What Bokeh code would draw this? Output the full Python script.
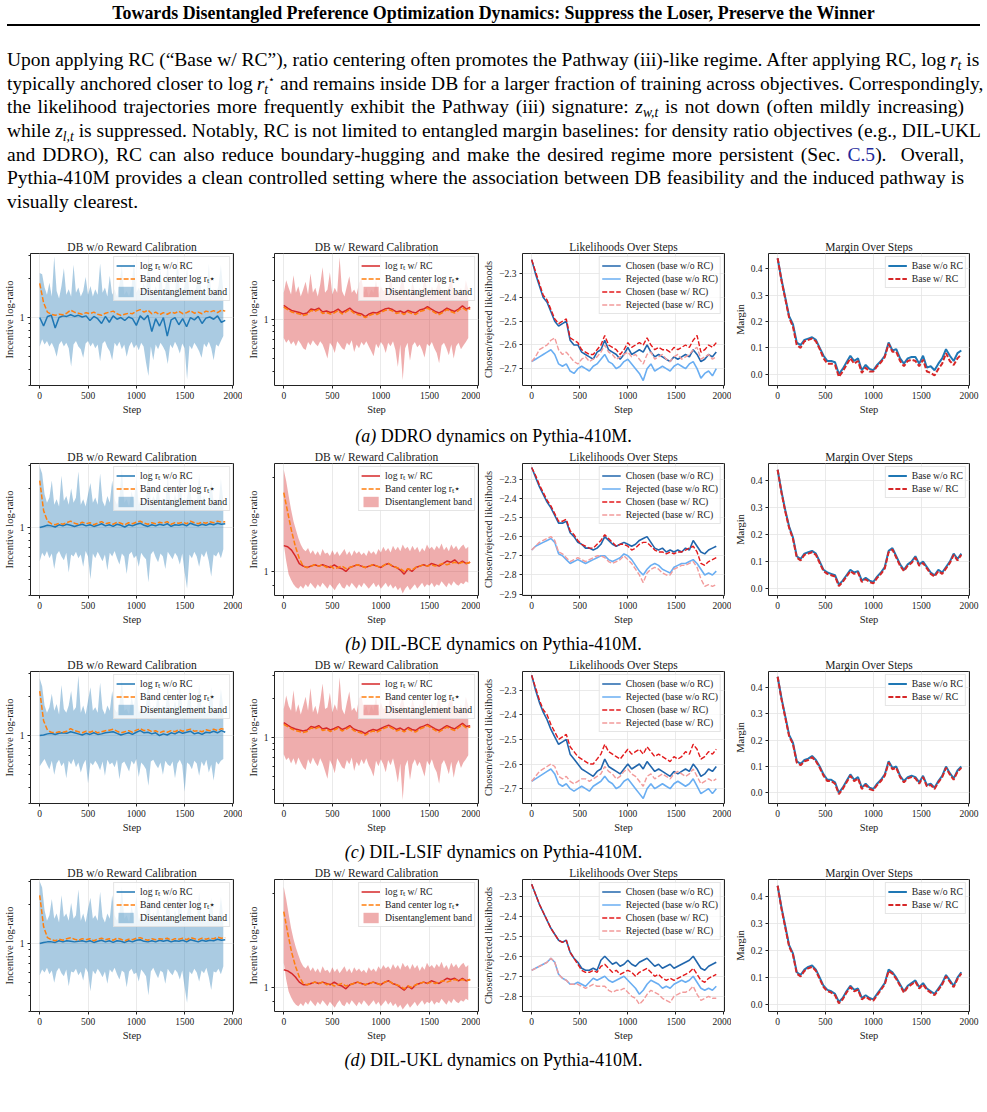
import numpy as np
from bokeh.core.properties import value
from bokeh.embed import file_html
from bokeh.layouts import column, row
from bokeh.models import (CustomJSTickFormatter, Div, FixedTicker, Legend,
                          LegendItem, Range1d)
from bokeh.plotting import figure
from bokeh.resources import INLINE

SERIF = "Liberation Serif"
BAND_EVERY = 25      # training steps between band samples
LINE_EVERY = 40      # training steps between curve samples
X_TICKS = [0, 500, 1000, 1500, 2000]
LOG_MINOR = [0.2, 0.3, 0.4, 0.5, 0.6, 0.7, 0.8, 0.9, 2, 3, 4, 5, 6, 7, 8, 9]
MARGIN_TICKS = [0.0, 0.1, 0.2, 0.3, 0.4]

# ---------------- DDRO ----------------
DDRO_WO_HI = [2.2, 2.15, 1.7, 1.5, 1.85, 1.45, 2.95, 1.6, 1.4, 1.75, 2.4, 1.5, 1.65, 1.45, 2.55, 1.55, 1.7, 1.45, 1.6, 2.05,
              1.5, 1.75, 1.45, 1.65, 1.5, 2.6, 1.55, 1.7, 1.45, 2.1, 1.5, 1.65, 1.45, 1.8, 2.5, 1.5, 1.6, 1.45, 1.7, 2.75,
              1.55, 1.7, 1.5, 1.85, 1.55, 3.05, 1.6, 1.45, 1.75, 1.5, 2.35, 1.55, 1.7, 2.65, 1.5, 1.65, 1.45, 2.95, 1.6, 1.5,
              1.75, 2.4, 1.55, 1.65, 1.45, 1.8, 2.15, 1.5, 1.7, 1.45, 2.6, 1.55, 1.65, 1.5, 1.75, 2.55, 1.6]
DDRO_WO_LO = [0.6, 0.68, 0.62, 0.66, 0.6, 0.64, 0.58, 0.5, 0.62, 0.66, 0.6, 0.64, 0.58, 0.42, 0.62, 0.66, 0.6, 0.57, 0.49, 0.63,
              0.66, 0.6, 0.64, 0.58, 0.62, 0.46, 0.63, 0.66, 0.59, 0.55, 0.47, 0.64, 0.6, 0.65, 0.57, 0.62, 0.5, 0.6, 0.65, 0.58,
              0.62, 0.56, 0.64, 0.6, 0.45, 0.355, 0.6, 0.47, 0.62, 0.57, 0.64, 0.6, 0.55, 0.44, 0.62, 0.58, 0.65, 0.6, 0.53, 0.63,
              0.58, 0.335, 0.61, 0.57, 0.64, 0.6, 0.55, 0.49, 0.63, 0.59, 0.65, 0.58, 0.47, 0.62, 0.6, 0.66, 0.72]
DDRO_WO_CENTER = [1.83, 1.3, 1.1, 1.06, 1.04, 1.06, 1.05, 1.08, 1.14, 1.1, 1.08, 1.06, 1.09, 1.07, 1.1, 1.06, 1.04, 1.08, 1.1,
                  1.12, 1.07, 1.04, 1.06, 1.08, 1.07, 1.12, 1.15, 1.1, 1.14, 1.07, 1.1, 1.05, 1.09, 1.06, 1.1, 1.08, 1.12,
                  1.07, 1.09, 1.13, 1.08, 1.1, 1.07, 1.12, 1.1, 1.13, 1.09, 1.14, 1.12]
DDRO_WO_LOGR = [1.0, 0.86, 1.02, 1.04, 0.83, 1.0, 1.03, 1.02, 1.05, 1.02, 1.04, 1.01, 1.03, 0.95, 1.02, 0.98, 0.9, 1.02, 0.92,
                1.03, 0.97, 1.0, 0.95, 1.01, 0.98, 0.87, 1.03, 0.96, 1.04, 0.78, 0.98, 0.86, 1.0, 0.72, 0.96, 1.0, 0.88,
                0.98, 0.85, 1.0, 0.96, 1.02, 0.9, 0.99, 1.01, 0.97, 1.03, 0.92, 0.95]
DDRO_W_HI = [1.6, 2.0, 1.75, 1.55, 2.18, 1.6, 1.8, 1.5, 1.7, 1.95, 1.55, 2.25, 1.6, 1.75, 1.5, 1.85, 2.52, 1.6, 1.7, 2.3,
             1.55, 1.75, 1.6, 3.0, 1.65, 1.5, 1.8, 2.15, 1.6, 1.7, 1.55, 1.9, 2.05, 1.6, 1.75, 1.5, 1.7, 1.6, 2.0, 1.55,
             1.8, 1.65, 1.7, 1.5, 2.25, 1.6, 1.75, 1.55, 1.8, 2.15, 1.6, 1.7, 1.5, 1.95, 1.65, 1.55, 1.75, 1.6, 2.15, 1.7,
             1.5, 1.8, 1.6, 1.75, 2.0, 1.55, 1.7, 1.6, 1.8, 2.2, 1.55, 1.7, 1.6, 1.75, 1.5, 2.0, 1.7]
DDRO_W_LO = [0.72, 0.66, 0.7, 0.64, 0.68, 0.62, 0.69, 0.65, 0.6, 0.58, 0.67, 0.63, 0.69, 0.65, 0.62, 0.68, 0.64, 0.57, 0.5, 0.66,
             0.62, 0.55, 0.68, 0.64, 0.6, 0.58, 0.66, 0.63, 0.69, 0.56, 0.64, 0.6, 0.67, 0.63, 0.68, 0.62, 0.57, 0.52, 0.65, 0.6,
             0.67, 0.63, 0.55, 0.66, 0.62, 0.68, 0.58, 0.43, 0.64, 0.34, 0.6, 0.66, 0.48, 0.63, 0.67, 0.61, 0.64, 0.58, 0.51, 0.65,
             0.62, 0.67, 0.6, 0.55, 0.46, 0.63, 0.66, 0.6, 0.53, 0.64, 0.5, 0.62, 0.66, 0.59, 0.63, 0.67, 0.72]
DDRO_W_CENTER = [1.24, 1.19, 1.14, 1.12, 1.1, 1.07, 1.09, 1.17, 1.15, 1.19, 1.11, 1.13, 1.1, 1.12, 1.17, 1.1, 1.14, 1.19, 1.12,
                 1.09, 1.07, 1.03, 1.07, 1.1, 1.09, 1.13, 1.17, 1.19, 1.16, 1.11, 1.13, 1.09, 1.14, 1.11, 1.09, 1.15, 1.17,
                 1.22, 1.17, 1.12, 1.09, 1.13, 1.19, 1.15, 1.12, 1.17, 1.23, 1.17, 1.21]
DDRO_W_LOGR = [1.28, 1.22, 1.17, 1.15, 1.13, 1.1, 1.12, 1.2, 1.18, 1.22, 1.14, 1.16, 1.13, 1.15, 1.2, 1.13, 1.17, 1.22, 1.15,
               1.12, 1.1, 1.05, 1.1, 1.13, 1.12, 1.16, 1.2, 1.22, 1.19, 1.14, 1.16, 1.12, 1.17, 1.14, 1.12, 1.18, 1.2, 1.25,
               1.2, 1.15, 1.12, 1.16, 1.22, 1.18, 1.15, 1.2, 1.27, 1.2, 1.24]
DDRO_CHOSEN_WO = [-2.24, -2.30, -2.35, -2.40, -2.42, -2.46, -2.50, -2.52, -2.51, -2.50, -2.58, -2.60, -2.60, -2.63, -2.64,
                  -2.65, -2.66, -2.63, -2.62, -2.58, -2.62, -2.63, -2.64, -2.66, -2.64, -2.61, -2.64, -2.63, -2.62, -2.63,
                  -2.60, -2.63, -2.65, -2.64, -2.65, -2.66, -2.67, -2.65, -2.66, -2.65, -2.64, -2.65, -2.62, -2.64, -2.67,
                  -2.66, -2.64, -2.65, -2.63]
DDRO_REJ_WO = [-2.67, -2.66, -2.65, -2.64, -2.63, -2.62, -2.64, -2.68, -2.69, -2.68, -2.71, -2.72, -2.70, -2.69, -2.70, -2.71,
               -2.69, -2.68, -2.66, -2.64, -2.67, -2.68, -2.70, -2.69, -2.67, -2.66, -2.68, -2.70, -2.72, -2.75, -2.70, -2.68,
               -2.71, -2.70, -2.69, -2.70, -2.71, -2.69, -2.68, -2.69, -2.70, -2.68, -2.67, -2.70, -2.74, -2.72, -2.71,
               -2.73, -2.70]
DDRO_CHOSEN_W = [-2.24, -2.29, -2.34, -2.39, -2.41, -2.45, -2.49, -2.51, -2.50, -2.49, -2.57, -2.58, -2.59, -2.62, -2.63,
                 -2.64, -2.64, -2.62, -2.60, -2.56, -2.60, -2.61, -2.62, -2.64, -2.62, -2.59, -2.61, -2.60, -2.59, -2.60,
                 -2.57, -2.60, -2.62, -2.61, -2.62, -2.62, -2.63, -2.61, -2.62, -2.61, -2.60, -2.61, -2.58, -2.56, -2.63,
                 -2.62, -2.60, -2.61, -2.59]
DDRO_REJ_W = [-2.67, -2.65, -2.62, -2.61, -2.60, -2.58, -2.57, -2.62, -2.64, -2.63, -2.65, -2.67, -2.68, -2.66, -2.65, -2.67,
              -2.66, -2.65, -2.63, -2.60, -2.63, -2.64, -2.66, -2.65, -2.64, -2.63, -2.65, -2.64, -2.66, -2.68, -2.64, -2.63,
              -2.66, -2.65, -2.64, -2.66, -2.67, -2.65, -2.64, -2.66, -2.65, -2.64, -2.62, -2.61, -2.66, -2.65, -2.64,
              -2.66, -2.65]
DDRO_MARGIN_WO = [0.44, 0.36, 0.29, 0.22, 0.19, 0.12, 0.11, 0.13, 0.135, 0.14, 0.13, 0.10, 0.07, 0.05, 0.05, 0.045, 0.0, 0.02,
                  0.045, 0.07, 0.05, 0.06, 0.015, 0.035, 0.02, 0.015, 0.035, 0.05, 0.07, 0.12, 0.09, 0.095, 0.06, 0.04, 0.06,
                  0.065, 0.065, 0.04, 0.07, 0.025, 0.03, 0.015, 0.04, 0.06, 0.095, 0.07, 0.05, 0.08, 0.09]
DDRO_MARGIN_W = [0.44, 0.355, 0.285, 0.215, 0.18, 0.11, 0.10, 0.125, 0.13, 0.135, 0.125, 0.095, 0.06, 0.04, 0.04, 0.035, -0.01,
                 0.01, 0.035, 0.06, 0.04, 0.05, 0.005, 0.025, 0.01, 0.01, 0.03, 0.045, 0.065, 0.115, 0.085, 0.085, 0.05, 0.03,
                 0.05, 0.055, 0.05, 0.03, 0.055, 0.01, 0.005, -0.005, 0.02, 0.04, 0.08, 0.05, 0.035, 0.06, 0.075]

# ---------------- DIL-BCE ----------------
BCE_WO_HI = [2.95, 2.6, 1.8, 1.55, 1.7, 2.3, 1.5, 1.65, 1.45, 2.5, 1.6, 1.75, 1.5, 2.0, 1.55, 1.7, 2.7, 1.5, 1.65, 1.45,
             1.8, 2.2, 1.55, 1.7, 1.5, 2.6, 1.6, 1.45, 1.75, 1.55, 2.3, 1.65, 1.5, 1.7, 2.85, 1.55, 1.65, 1.45, 1.9, 1.6,
             2.4, 1.5, 1.7, 1.55, 1.65, 2.9, 1.5, 1.75, 1.6, 2.1, 1.45, 1.7, 1.55, 2.5, 1.65, 1.5, 1.8, 1.55, 2.75, 1.6,
             1.45, 1.7, 2.2, 1.55, 1.65, 1.5, 2.6, 1.6, 1.75, 1.45, 1.7, 2.3, 1.55, 1.65, 1.5, 2.4, 1.6]
BCE_WO_LO = [0.55, 0.64, 0.6, 0.66, 0.58, 0.63, 0.48, 0.62, 0.66, 0.6, 0.56, 0.64, 0.45, 0.62, 0.6, 0.65, 0.58, 0.62, 0.5, 0.66,
             0.6, 0.4, 0.63, 0.58, 0.65, 0.6, 0.55, 0.62, 0.47, 0.64, 0.6, 0.66, 0.58, 0.52, 0.63, 0.6, 0.44, 0.62, 0.65, 0.58,
             0.61, 0.5, 0.64, 0.6, 0.57, 0.38, 0.62, 0.66, 0.59, 0.54, 0.63, 0.6, 0.48, 0.65, 0.61, 0.57, 0.64, 0.6, 0.52, 0.63,
             0.45, 0.34, 0.62, 0.58, 0.65, 0.6, 0.5, 0.63, 0.59, 0.66, 0.55, 0.42, 0.62, 0.6, 0.65, 0.58, 0.68]
BCE_WO_CENTER = [2.3, 1.35, 1.12, 1.07, 1.05, 1.08, 1.06, 1.09, 1.12, 1.08, 1.06, 1.1, 1.07, 1.09, 1.05, 1.08, 1.11, 1.07, 1.09,
                 1.06, 1.1, 1.08, 1.05, 1.09, 1.07, 1.1, 1.12, 1.08, 1.06, 1.09, 1.07, 1.1, 1.08, 1.11, 1.06, 1.09, 1.08,
                 1.1, 1.07, 1.12, 1.09, 1.07, 1.1, 1.08, 1.11, 1.09, 1.12, 1.1, 1.11]
BCE_WO_LOGR = [1.0, 1.02, 1.04, 1.03, 1.01, 1.05, 1.03, 1.06, 1.04, 1.02, 1.04, 1.06, 1.03, 1.05, 1.02, 1.04, 1.07, 1.03, 1.05,
               1.02, 1.06, 1.04, 1.01, 1.05, 1.03, 1.06, 1.08, 1.04, 1.02, 1.05, 1.03, 1.06, 1.04, 1.07, 1.02, 1.05, 1.04,
               1.06, 1.03, 1.08, 1.05, 1.03, 1.06, 1.04, 1.07, 1.05, 1.08, 1.06, 1.07]
BCE_W_HI = [2.12, 1.95, 1.75, 1.58, 1.45, 1.36, 1.28, 1.22, 1.18, 1.16, 1.19, 1.14, 1.17, 1.13, 1.16, 1.12, 1.18, 1.14, 1.15,
            1.12, 1.17, 1.13, 1.16, 1.12, 1.15, 1.18, 1.13, 1.16, 1.12, 1.17, 1.14, 1.16, 1.13, 1.15, 1.12, 1.17, 1.14, 1.16,
            1.13, 1.18, 1.15, 1.2, 1.16, 1.19, 1.15, 1.21, 1.17, 1.2, 1.16, 1.22, 1.18, 1.2, 1.16, 1.21, 1.17, 1.2, 1.15, 1.19,
            1.16, 1.22, 1.18, 1.2, 1.17, 1.21, 1.18, 1.23, 1.17, 1.2, 1.16, 1.22, 1.18, 1.21, 1.17, 1.2, 1.22, 1.18, 1.2]
BCE_W_LO = [1.22, 1.08, 0.98, 0.94, 0.91, 0.89, 0.88, 0.9, 0.88, 0.91, 0.89, 0.92, 0.9, 0.88, 0.91, 0.89, 0.92, 0.9, 0.88, 0.91,
            0.89, 0.87, 0.9, 0.92, 0.89, 0.88, 0.91, 0.89, 0.92, 0.9, 0.88, 0.91, 0.89, 0.92, 0.9, 0.88, 0.9, 0.92, 0.89, 0.91,
            0.88, 0.9, 0.92, 0.89, 0.91, 0.88, 0.9, 0.87, 0.89, 0.85, 0.88, 0.9, 0.87, 0.89, 0.91, 0.88, 0.9, 0.92, 0.89, 0.91,
            0.9, 0.92, 0.89, 0.91, 0.9, 0.93, 0.91, 0.89, 0.92, 0.9, 0.93, 0.91, 0.9, 0.92, 0.91, 0.93, 0.92]
BCE_W_CENTER = [1.79, 1.55, 1.35, 1.2, 1.1, 1.04, 1.03, 1.04, 1.05, 1.04, 1.05, 1.03, 1.04, 1.02, 1.03, 1.04, 1.02, 1.03, 1.04,
                1.05, 1.04, 1.03, 1.04, 1.05, 1.04, 1.03, 1.05, 1.06, 1.04, 1.03, 1.02, 1.0, 1.02, 1.01, 1.03, 1.04, 1.05,
                1.04, 1.05, 1.04, 1.05, 1.06, 1.05, 1.06, 1.07, 1.06, 1.07, 1.06, 1.07]
BCE_W_LOGR = [1.21, 1.2, 1.17, 1.12, 1.06, 1.04, 1.03, 1.04, 1.05, 1.04, 1.05, 1.04, 1.03, 1.05, 1.03, 1.02, 1.0, 1.03, 1.04,
              1.05, 1.04, 1.03, 1.04, 1.05, 1.04, 1.03, 1.05, 1.06, 1.04, 1.03, 1.01, 0.98, 1.02, 1.0, 1.03, 1.04, 1.05, 1.04,
              1.06, 1.05, 1.04, 1.06, 1.08, 1.07, 1.09, 1.06, 1.08, 1.06, 1.07]
BCE_CHOSEN_WO = [-2.24, -2.29, -2.34, -2.38, -2.42, -2.45, -2.49, -2.53, -2.53, -2.52, -2.58, -2.60, -2.63, -2.64, -2.66,
                 -2.66, -2.67, -2.66, -2.64, -2.60, -2.62, -2.64, -2.65, -2.64, -2.63, -2.64, -2.65, -2.64, -2.62, -2.61,
                 -2.60, -2.63, -2.66, -2.67, -2.66, -2.68, -2.67, -2.68, -2.67, -2.68, -2.66, -2.67, -2.62, -2.65, -2.68,
                 -2.69, -2.67, -2.66, -2.65]
BCE_REJ_WO = [-2.67, -2.65, -2.64, -2.63, -2.62, -2.61, -2.63, -2.69, -2.70, -2.72, -2.74, -2.73, -2.72, -2.73, -2.74, -2.73,
              -2.72, -2.71, -2.70, -2.70, -2.72, -2.73, -2.72, -2.71, -2.69, -2.70, -2.72, -2.75, -2.78, -2.80, -2.77, -2.75,
              -2.74, -2.75, -2.77, -2.78, -2.79, -2.76, -2.75, -2.74, -2.74, -2.73, -2.72, -2.74, -2.77, -2.80, -2.79,
              -2.80, -2.78]
BCE_CHOSEN_W = [-2.24, -2.28, -2.33, -2.37, -2.41, -2.44, -2.48, -2.52, -2.52, -2.51, -2.57, -2.59, -2.62, -2.64, -2.65,
                -2.66, -2.66, -2.64, -2.62, -2.59, -2.61, -2.63, -2.65, -2.64, -2.64, -2.65, -2.67, -2.66, -2.64, -2.63,
                -2.63, -2.65, -2.67, -2.68, -2.68, -2.69, -2.68, -2.69, -2.68, -2.68, -2.67, -2.66, -2.65, -2.68, -2.74,
                -2.75, -2.73, -2.72, -2.71]
BCE_REJ_W = [-2.67, -2.65, -2.63, -2.62, -2.61, -2.60, -2.62, -2.68, -2.69, -2.71, -2.73, -2.72, -2.71, -2.72, -2.73, -2.72,
             -2.71, -2.70, -2.70, -2.71, -2.73, -2.74, -2.73, -2.72, -2.70, -2.72, -2.74, -2.77, -2.80, -2.84, -2.79, -2.77,
             -2.76, -2.77, -2.79, -2.80, -2.80, -2.77, -2.76, -2.75, -2.75, -2.74, -2.73, -2.76, -2.82, -2.86, -2.85,
             -2.86, -2.85]
BCE_MARGIN_WO = [0.44, 0.36, 0.29, 0.23, 0.19, 0.12, 0.11, 0.13, 0.135, 0.14, 0.13, 0.10, 0.07, 0.06, 0.055, 0.05, 0.015, 0.03,
                 0.05, 0.07, 0.06, 0.065, 0.03, 0.04, 0.03, 0.025, 0.045, 0.06, 0.08, 0.14, 0.15, 0.12, 0.09, 0.07, 0.09, 0.10,
                 0.12, 0.09, 0.10, 0.08, 0.06, 0.05, 0.07, 0.06, 0.08, 0.10, 0.13, 0.11, 0.13]
BCE_MARGIN_W = [0.44, 0.355, 0.285, 0.225, 0.185, 0.115, 0.105, 0.125, 0.13, 0.135, 0.125, 0.095, 0.065, 0.055, 0.05, 0.045,
                0.01, 0.025, 0.045, 0.065, 0.055, 0.06, 0.025, 0.035, 0.025, 0.02, 0.04, 0.055, 0.075, 0.135, 0.145, 0.115,
                0.085, 0.065, 0.085, 0.095, 0.115, 0.085, 0.095, 0.075, 0.055, 0.045, 0.065, 0.055, 0.075, 0.095, 0.125,
                0.105, 0.125]

# ---------------- DIL-LSIF ----------------
LSIF_WO_HI = [2.75, 2.4, 1.7, 1.5, 1.65, 2.1, 1.55, 1.75, 1.45, 2.45, 1.6, 1.5, 1.7, 2.2, 1.55, 1.65, 2.9, 1.5, 1.7, 1.45,
              1.85, 2.35, 1.55, 1.65, 1.5, 2.55, 1.6, 1.45, 1.7, 1.55, 2.2, 1.6, 1.5, 1.75, 2.7, 1.55, 1.6, 1.45, 2.0, 1.65,
              2.45, 1.5, 1.65, 1.55, 1.7, 2.8, 1.5, 1.7, 1.6, 2.2, 1.45, 1.75, 1.55, 2.4, 1.6, 1.5, 1.85, 1.55, 2.65, 1.6,
              1.45, 1.7, 2.3, 1.55, 1.6, 1.5, 2.5, 1.65, 1.7, 1.45, 1.75, 2.35, 1.55, 1.6, 1.5, 2.3, 1.65]
LSIF_WO_LO = [0.58, 0.62, 0.66, 0.6, 0.55, 0.64, 0.5, 0.61, 0.65, 0.58, 0.62, 0.47, 0.64, 0.6, 0.66, 0.57, 0.62, 0.52, 0.6, 0.65,
              0.43, 0.62, 0.59, 0.64, 0.6, 0.54, 0.63, 0.49, 0.65, 0.6, 0.62, 0.57, 0.65, 0.46, 0.61, 0.63, 0.58, 0.53, 0.64, 0.6,
              0.66, 0.48, 0.62, 0.59, 0.55, 0.41, 0.63, 0.65, 0.6, 0.56, 0.62, 0.5, 0.64, 0.6, 0.58, 0.63, 0.47, 0.61, 0.65, 0.59,
              0.37, 0.62, 0.6, 0.55, 0.64, 0.61, 0.49, 0.63, 0.58, 0.65, 0.52, 0.6, 0.45, 0.63, 0.6, 0.64, 0.66]
LSIF_WO_CENTER = [2.2, 1.3, 1.1, 1.06, 1.05, 1.07, 1.06, 1.08, 1.13, 1.09, 1.07, 1.05, 1.08, 1.06, 1.09, 1.05, 1.07, 1.09, 1.1,
                  1.12, 1.08, 1.05, 1.07, 1.09, 1.06, 1.1, 1.13, 1.09, 1.11, 1.07, 1.09, 1.05, 1.08, 1.06, 1.09, 1.07, 1.11,
                  1.08, 1.1, 1.12, 1.08, 1.09, 1.07, 1.11, 1.09, 1.12, 1.09, 1.13, 1.11]
LSIF_WO_LOGR = [1.0, 1.01, 1.03, 1.04, 1.02, 1.04, 1.05, 1.04, 1.07, 1.05, 1.03, 1.01, 1.04, 1.02, 1.05, 1.02, 1.03, 1.05, 1.06,
                1.07, 1.04, 1.01, 1.03, 1.05, 1.02, 1.06, 1.09, 1.05, 1.06, 1.03, 1.05, 1.0, 1.03, 1.01, 1.05, 1.03, 1.07,
                1.04, 1.06, 1.08, 1.03, 1.05, 1.02, 1.06, 1.05, 1.08, 1.05, 1.09, 1.06]
LSIF_W_HI = [1.65, 2.1, 1.75, 1.6, 2.3, 1.55, 1.8, 1.5, 1.75, 2.05, 1.6, 2.4, 1.55, 1.75, 1.5, 1.9, 2.6, 1.65, 1.7, 2.2,
             1.55, 1.8, 1.6, 2.9, 1.65, 1.5, 1.85, 2.25, 1.6, 1.7, 1.55, 2.0, 2.1, 1.6, 1.75, 1.5, 1.75, 1.6, 2.1, 1.55,
             1.85, 1.65, 1.7, 1.5, 2.35, 1.6, 1.75, 1.55, 1.8, 2.05, 1.6, 1.75, 1.5, 2.0, 1.65, 1.55, 1.8, 1.6, 2.25, 1.7,
             1.5, 1.85, 1.6, 1.75, 2.1, 1.55, 1.7, 1.6, 1.85, 2.3, 1.55, 1.75, 1.6, 1.8, 1.5, 2.05, 1.75]
LSIF_W_LO = [0.74, 0.67, 0.7, 0.63, 0.69, 0.61, 0.7, 0.64, 0.59, 0.56, 0.68, 0.62, 0.7, 0.64, 0.6, 0.69, 0.63, 0.55, 0.48, 0.67,
             0.61, 0.53, 0.69, 0.64, 0.59, 0.57, 0.67, 0.62, 0.7, 0.55, 0.65, 0.6, 0.68, 0.62, 0.69, 0.61, 0.56, 0.5, 0.66, 0.6,
             0.68, 0.62, 0.54, 0.67, 0.61, 0.69, 0.57, 0.45, 0.63, 0.33, 0.6, 0.67, 0.47, 0.62, 0.68, 0.6, 0.65, 0.57, 0.5, 0.66,
             0.61, 0.68, 0.59, 0.54, 0.44, 0.62, 0.67, 0.6, 0.52, 0.65, 0.49, 0.61, 0.67, 0.58, 0.64, 0.68, 0.73]
LSIF_W_CENTER = [1.26, 1.21, 1.16, 1.13, 1.11, 1.09, 1.11, 1.18, 1.16, 1.2, 1.13, 1.15, 1.11, 1.14, 1.18, 1.12, 1.15, 1.2, 1.13,
                 1.1, 1.08, 1.04, 1.09, 1.12, 1.1, 1.14, 1.18, 1.21, 1.17, 1.12, 1.15, 1.1, 1.16, 1.12, 1.1, 1.16, 1.19,
                 1.23, 1.18, 1.13, 1.1, 1.15, 1.2, 1.16, 1.13, 1.19, 1.25, 1.18, 1.2]
LSIF_W_LOGR = [1.3, 1.24, 1.19, 1.16, 1.14, 1.12, 1.14, 1.21, 1.19, 1.23, 1.16, 1.18, 1.14, 1.17, 1.21, 1.15, 1.18, 1.23, 1.16,
               1.13, 1.11, 1.07, 1.12, 1.15, 1.13, 1.17, 1.21, 1.24, 1.2, 1.15, 1.18, 1.13, 1.19, 1.15, 1.13, 1.19, 1.22,
               1.26, 1.21, 1.16, 1.13, 1.18, 1.23, 1.19, 1.16, 1.22, 1.28, 1.21, 1.23]
LSIF_CHOSEN_WO = [-2.24, -2.30, -2.35, -2.39, -2.42, -2.46, -2.49, -2.52, -2.51, -2.50, -2.56, -2.58, -2.60, -2.62, -2.63,
                  -2.64, -2.65, -2.63, -2.62, -2.58, -2.61, -2.62, -2.63, -2.64, -2.62, -2.60, -2.62, -2.61, -2.60, -2.62,
                  -2.59, -2.61, -2.63, -2.62, -2.63, -2.64, -2.65, -2.63, -2.64, -2.63, -2.62, -2.63, -2.60, -2.62, -2.65,
                  -2.64, -2.62, -2.63, -2.61]
LSIF_REJ_WO = [-2.67, -2.66, -2.65, -2.64, -2.63, -2.62, -2.64, -2.68, -2.69, -2.68, -2.70, -2.71, -2.70, -2.69, -2.70, -2.71,
               -2.69, -2.68, -2.67, -2.65, -2.67, -2.68, -2.70, -2.69, -2.67, -2.66, -2.68, -2.70, -2.72, -2.74, -2.70, -2.68,
               -2.70, -2.69, -2.68, -2.69, -2.70, -2.68, -2.67, -2.68, -2.69, -2.68, -2.66, -2.69, -2.72, -2.71, -2.70,
               -2.72, -2.70]
LSIF_CHOSEN_W = [-2.24, -2.29, -2.34, -2.38, -2.40, -2.44, -2.47, -2.50, -2.49, -2.48, -2.53, -2.55, -2.57, -2.58, -2.59,
                 -2.60, -2.60, -2.58, -2.56, -2.52, -2.55, -2.56, -2.57, -2.58, -2.56, -2.54, -2.56, -2.55, -2.54, -2.56,
                 -2.53, -2.55, -2.57, -2.56, -2.57, -2.58, -2.59, -2.57, -2.58, -2.57, -2.55, -2.56, -2.52, -2.54, -2.58,
                 -2.57, -2.55, -2.56, -2.54]
LSIF_REJ_W = [-2.67, -2.65, -2.63, -2.62, -2.61, -2.60, -2.61, -2.65, -2.66, -2.65, -2.67, -2.68, -2.67, -2.66, -2.66, -2.67,
              -2.66, -2.65, -2.64, -2.61, -2.63, -2.64, -2.66, -2.65, -2.63, -2.62, -2.64, -2.65, -2.67, -2.69, -2.65, -2.64,
              -2.66, -2.65, -2.64, -2.65, -2.66, -2.64, -2.63, -2.64, -2.65, -2.64, -2.62, -2.65, -2.68, -2.67, -2.66,
              -2.67, -2.66]
LSIF_MARGIN_WO = [0.44, 0.36, 0.29, 0.22, 0.19, 0.12, 0.11, 0.125, 0.13, 0.14, 0.125, 0.10, 0.07, 0.05, 0.05, 0.04, 0.0, 0.02,
                  0.045, 0.07, 0.05, 0.06, 0.02, 0.035, 0.02, 0.015, 0.035, 0.05, 0.07, 0.12, 0.095, 0.10, 0.065, 0.045, 0.06,
                  0.065, 0.06, 0.04, 0.065, 0.03, 0.035, 0.02, 0.045, 0.065, 0.10, 0.075, 0.055, 0.085, 0.10]
LSIF_MARGIN_W = [0.44, 0.355, 0.285, 0.215, 0.185, 0.115, 0.105, 0.12, 0.125, 0.135, 0.12, 0.095, 0.065, 0.045, 0.045, 0.035,
                 -0.005, 0.015, 0.04, 0.065, 0.045, 0.055, 0.015, 0.03, 0.015, 0.01, 0.03, 0.045, 0.065, 0.115, 0.09, 0.095,
                 0.06, 0.04, 0.055, 0.06, 0.055, 0.035, 0.06, 0.025, 0.03, 0.015, 0.04, 0.06, 0.095, 0.07, 0.05, 0.08, 0.095]

# ---------------- DIL-UKL ----------------
UKL_WO_HI = [3.0, 2.7, 1.8, 1.5, 1.65, 2.2, 1.55, 1.7, 1.45, 2.35, 1.6, 1.7, 1.5, 2.05, 1.55, 1.65, 2.6, 1.5, 1.7, 1.45,
             1.85, 2.25, 1.55, 1.65, 1.5, 2.5, 1.6, 1.45, 1.7, 1.55, 2.35, 1.65, 1.5, 1.7, 2.75, 1.55, 1.65, 1.45, 1.95, 1.6,
             2.3, 1.5, 1.7, 1.55, 1.65, 2.85, 1.5, 1.75, 1.6, 2.05, 1.45, 1.7, 1.55, 2.45, 1.65, 1.5, 1.8, 1.55, 2.7, 1.6,
             1.45, 1.7, 2.15, 1.55, 1.65, 1.5, 2.5, 1.6, 1.75, 1.45, 1.7, 2.25, 1.55, 1.65, 1.5, 2.3, 1.6]
UKL_WO_LO = [0.57, 0.63, 0.6, 0.65, 0.58, 0.62, 0.5, 0.61, 0.65, 0.59, 0.56, 0.63, 0.47, 0.61, 0.6, 0.64, 0.57, 0.61, 0.52, 0.65,
             0.6, 0.43, 0.62, 0.58, 0.64, 0.6, 0.55, 0.61, 0.49, 0.63, 0.6, 0.65, 0.58, 0.53, 0.62, 0.6, 0.46, 0.61, 0.64, 0.58,
             0.6, 0.51, 0.63, 0.6, 0.56, 0.4, 0.61, 0.65, 0.59, 0.54, 0.62, 0.6, 0.49, 0.64, 0.6, 0.57, 0.63, 0.6, 0.53, 0.62,
             0.46, 0.35, 0.61, 0.58, 0.64, 0.6, 0.51, 0.62, 0.59, 0.65, 0.55, 0.44, 0.61, 0.6, 0.64, 0.58, 0.67]
UKL_WO_CENTER = [2.35, 1.35, 1.11, 1.07, 1.05, 1.08, 1.06, 1.09, 1.11, 1.08, 1.06, 1.09, 1.07, 1.09, 1.05, 1.08, 1.1, 1.07, 1.09,
                 1.06, 1.1, 1.08, 1.05, 1.08, 1.07, 1.1, 1.11, 1.08, 1.06, 1.09, 1.07, 1.09, 1.08, 1.1, 1.06, 1.09, 1.08,
                 1.1, 1.07, 1.11, 1.09, 1.07, 1.1, 1.08, 1.1, 1.09, 1.12, 1.1, 1.11]
UKL_WO_LOGR = [1.0, 1.02, 1.03, 1.03, 1.02, 1.05, 1.03, 1.05, 1.04, 1.03, 1.04, 1.05, 1.03, 1.05, 1.02, 1.04, 1.06, 1.03, 1.05,
               1.02, 1.05, 1.04, 1.02, 1.05, 1.03, 1.06, 1.07, 1.04, 1.03, 1.05, 1.03, 1.06, 1.04, 1.06, 1.03, 1.05, 1.04,
               1.06, 1.03, 1.07, 1.05, 1.03, 1.06, 1.04, 1.06, 1.05, 1.08, 1.06, 1.07]
UKL_W_HI = [2.1, 1.92, 1.72, 1.55, 1.43, 1.34, 1.27, 1.21, 1.17, 1.15, 1.18, 1.13, 1.16, 1.12, 1.15, 1.11, 1.17, 1.13, 1.14,
            1.11, 1.16, 1.12, 1.15, 1.11, 1.14, 1.17, 1.12, 1.15, 1.11, 1.16, 1.13, 1.15, 1.12, 1.14, 1.11, 1.16, 1.13, 1.15,
            1.12, 1.17, 1.14, 1.18, 1.15, 1.17, 1.14, 1.19, 1.15, 1.18, 1.14, 1.2, 1.16, 1.18, 1.14, 1.19, 1.15, 1.18, 1.13,
            1.17, 1.14, 1.2, 1.16, 1.18, 1.15, 1.19, 1.16, 1.21, 1.15, 1.18, 1.14, 1.2, 1.16, 1.19, 1.15, 1.18, 1.2, 1.16, 1.18]
UKL_W_LO = [1.2, 1.06, 0.97, 0.93, 0.9, 0.88, 0.87, 0.89, 0.87, 0.9, 0.88, 0.91, 0.89, 0.87, 0.9, 0.88, 0.91, 0.89, 0.87, 0.9,
            0.88, 0.86, 0.89, 0.91, 0.88, 0.87, 0.9, 0.88, 0.91, 0.89, 0.87, 0.9, 0.88, 0.91, 0.89, 0.87, 0.89, 0.91, 0.88, 0.9,
            0.87, 0.89, 0.91, 0.88, 0.9, 0.87, 0.89, 0.86, 0.88, 0.85, 0.87, 0.89, 0.86, 0.88, 0.9, 0.87, 0.89, 0.91, 0.88, 0.9,
            0.89, 0.91, 0.88, 0.9, 0.89, 0.92, 0.9, 0.88, 0.91, 0.89, 0.92, 0.9, 0.89, 0.91, 0.9, 0.92, 0.91]
UKL_W_CENTER = [1.75, 1.5, 1.3, 1.17, 1.08, 1.03, 1.02, 1.03, 1.04, 1.03, 1.04, 1.02, 1.03, 1.01, 1.02, 1.03, 1.01, 1.02, 1.03,
                1.04, 1.03, 1.02, 1.03, 1.04, 1.03, 1.02, 1.04, 1.05, 1.03, 1.02, 1.01, 0.99, 1.01, 1.0, 1.02, 1.03, 1.04,
                1.03, 1.04, 1.03, 1.04, 1.05, 1.04, 1.05, 1.06, 1.05, 1.06, 1.05, 1.06]
UKL_W_LOGR = [1.14, 1.13, 1.11, 1.08, 1.04, 1.02, 1.02, 1.03, 1.04, 1.03, 1.04, 1.03, 1.02, 1.04, 1.02, 1.01, 0.99, 1.02, 1.03,
              1.04, 1.03, 1.02, 1.03, 1.04, 1.03, 1.02, 1.04, 1.05, 1.03, 1.02, 1.0, 0.98, 1.01, 0.99, 1.02, 1.03, 1.04, 1.03,
              1.05, 1.04, 1.03, 1.05, 1.07, 1.06, 1.07, 1.05, 1.07, 1.05, 1.06]
UKL_CHOSEN_WO = [-2.24, -2.29, -2.34, -2.38, -2.42, -2.46, -2.49, -2.52, -2.53, -2.52, -2.58, -2.61, -2.63, -2.66, -2.67,
                 -2.67, -2.66, -2.67, -2.62, -2.60, -2.62, -2.64, -2.63, -2.65, -2.64, -2.62, -2.64, -2.65, -2.63, -2.62,
                 -2.61, -2.63, -2.65, -2.64, -2.66, -2.65, -2.64, -2.66, -2.65, -2.64, -2.63, -2.62, -2.60, -2.63, -2.66,
                 -2.67, -2.65, -2.64, -2.63]
UKL_REJ_WO = [-2.67, -2.66, -2.65, -2.64, -2.63, -2.61, -2.63, -2.69, -2.71, -2.72, -2.74, -2.74, -2.73, -2.74, -2.75, -2.73,
              -2.71, -2.72, -2.71, -2.70, -2.72, -2.73, -2.72, -2.71, -2.70, -2.72, -2.74, -2.76, -2.79, -2.77, -2.74, -2.72,
              -2.73, -2.74, -2.76, -2.75, -2.76, -2.74, -2.73, -2.72, -2.73, -2.72, -2.70, -2.73, -2.76, -2.77, -2.76,
              -2.77, -2.75]
UKL_CHOSEN_W = [-2.24, -2.29, -2.34, -2.38, -2.42, -2.46, -2.49, -2.52, -2.53, -2.52, -2.58, -2.61, -2.64, -2.67, -2.68,
                -2.68, -2.67, -2.68, -2.65, -2.64, -2.66, -2.68, -2.67, -2.69, -2.68, -2.67, -2.68, -2.70, -2.68, -2.67,
                -2.66, -2.68, -2.70, -2.69, -2.71, -2.72, -2.71, -2.72, -2.71, -2.70, -2.69, -2.68, -2.66, -2.69, -2.72,
                -2.73, -2.71, -2.70, -2.69]
UKL_REJ_W = [-2.67, -2.66, -2.65, -2.64, -2.63, -2.61, -2.63, -2.69, -2.71, -2.72, -2.74, -2.74, -2.74, -2.75, -2.76, -2.75,
             -2.74, -2.75, -2.75, -2.75, -2.77, -2.78, -2.77, -2.77, -2.76, -2.78, -2.80, -2.81, -2.84, -2.82, -2.79, -2.77,
             -2.78, -2.79, -2.81, -2.82, -2.83, -2.80, -2.79, -2.78, -2.78, -2.77, -2.75, -2.79, -2.82, -2.81, -2.80,
             -2.81, -2.81]
UKL_MARGIN_WO = [0.44, 0.36, 0.29, 0.22, 0.19, 0.12, 0.11, 0.13, 0.14, 0.145, 0.13, 0.10, 0.07, 0.055, 0.05, 0.04, 0.01, 0.025,
                 0.05, 0.07, 0.055, 0.06, 0.025, 0.035, 0.025, 0.02, 0.04, 0.06, 0.08, 0.13, 0.12, 0.10, 0.075, 0.05, 0.07,
                 0.08, 0.09, 0.065, 0.08, 0.06, 0.05, 0.04, 0.06, 0.08, 0.11, 0.09, 0.07, 0.10, 0.12]
UKL_MARGIN_W = [0.44, 0.355, 0.285, 0.215, 0.185, 0.115, 0.105, 0.125, 0.135, 0.14, 0.125, 0.095, 0.065, 0.05, 0.045, 0.035,
                0.005, 0.02, 0.045, 0.065, 0.05, 0.055, 0.02, 0.03, 0.02, 0.015, 0.035, 0.055, 0.075, 0.125, 0.115, 0.095,
                0.07, 0.045, 0.065, 0.075, 0.085, 0.06, 0.075, 0.055, 0.045, 0.035, 0.055, 0.075, 0.105, 0.085, 0.065,
                0.095, 0.115]

# ---------------- styling ----------------
BLUE = "#1f77b4"
ORANGE = "#ff7f0e"
RED = "#d62728"
CHOSEN_WO_C = "#2166ac"
REJ_WO_C = "#6aaef2"
CHOSEN_W_C = "#e31a1c"
REJ_W_C = "#f29b9b"
INK = "#222222"

TOP, BOTTOM = 18, 29
FIG_H = TOP + 135 + BOTTOM
# (width, left border, right border) of the four panel columns
COLS = [(242, 29, 9), (238, 32, 2), (251, 39, 7), (256, 34, 18)]


def steps(vals, every):
    return [every * i for i in range(len(vals))]


def base_fig(col, y_range, title, log_y=False):
    width, left, right = COLS[col]
    p = figure(width=width, height=FIG_H, x_range=Range1d(-95.5, 2005.5), y_range=y_range,
               y_axis_type="log" if log_y else "linear", output_backend="svg", toolbar_location=None,
               min_border_left=left, min_border_right=right, min_border_top=TOP, min_border_bottom=BOTTOM,
               title=title, margin=(0, 0, 0, 0))
    p.title.align = "center"
    p.title.text_font = SERIF
    p.title.text_font_size = "11.5px"
    p.title.text_font_style = "normal"
    p.title.text_color = INK
    p.title.standoff = 2
    p.outline_line_color = INK
    p.outline_line_width = 1
    p.outline_line_alpha = 1.0
    p.xaxis.ticker = FixedTicker(ticks=X_TICKS)
    for ax in p.axis:
        ax.axis_line_color = None
        ax.major_tick_line_color = INK
        ax.major_tick_out = 3
        ax.major_tick_in = 0
        ax.minor_tick_line_color = INK
        ax.minor_tick_out = 2
        ax.minor_tick_in = 0
        ax.major_label_text_font = SERIF
        ax.major_label_text_font_size = "9.5px"
        ax.major_label_text_color = INK
        ax.major_label_standoff = 3
        ax.axis_label_text_font = SERIF
        ax.axis_label_text_font_size = "10.5px"
        ax.axis_label_text_font_style = "normal"
        ax.axis_label_text_color = INK
        ax.axis_label_standoff = 2
    p.xaxis.axis_label = "Step"
    p.grid.grid_line_color = "#e4e4e4"
    p.grid.grid_line_width = 0.8
    return p


def add_legend(p, items):
    lg = Legend(items=[LegendItem(label=value(lbl), renderers=[r]) for lbl, r in items],
                location="top_right")
    lg.label_text_font = SERIF
    lg.label_text_font_size = "9.7px"
    lg.label_text_color = INK
    lg.label_height = 13
    lg.glyph_height = 13
    lg.glyph_width = 19
    lg.label_standoff = 5
    lg.spacing = 0
    lg.padding = 2
    lg.margin = 3
    lg.border_line_color = "#cccccc"
    lg.border_line_width = 1
    lg.background_fill_alpha = 0.8
    p.add_layout(lg)


def ratio_panel(col, yr, lo, hi, center, logr, color, line_label, title):
    p = base_fig(col, Range1d(*yr), title, log_y=True)
    ticker = FixedTicker(ticks=[1.0], minor_ticks=LOG_MINOR)
    p.yaxis.ticker = ticker
    p.ygrid.ticker = ticker
    p.yaxis.formatter = CustomJSTickFormatter(code="return String(tick);")
    p.yaxis.axis_label = "Incentive log-ratio"
    band = p.varea(x=steps(lo, BAND_EVERY), y1=lo, y2=hi, fill_color=color, fill_alpha=0.38)
    r_line = p.line(steps(logr, LINE_EVERY), logr, line_color=color, line_width=1.5)
    r_cent = p.line(steps(center, LINE_EVERY), center, line_color=ORANGE, line_width=1.5, line_dash="5 2")
    add_legend(p, [(line_label, r_line), ("Band center log r\u209c\u22c6", r_cent),
                   ("Disentanglement band", band)])
    return p


def likelihood_panel(yr, ticks, cwo, rwo, cw, rw):
    p = base_fig(2, Range1d(*yr), "Likelihoods Over Steps")
    p.yaxis.ticker = FixedTicker(ticks=ticks)
    p.yaxis.formatter = CustomJSTickFormatter(code="return tick.toFixed(1).replace('-', '\\u2212');")
    p.yaxis.axis_label = "Chosen/rejected likelihoods"
    a = p.line(steps(cwo, LINE_EVERY), cwo, line_color=CHOSEN_WO_C, line_width=1.6)
    b = p.line(steps(rwo, LINE_EVERY), rwo, line_color=REJ_WO_C, line_width=1.6)
    c = p.line(steps(cw, LINE_EVERY), cw, line_color=CHOSEN_W_C, line_width=1.4, line_dash="5 2")
    d = p.line(steps(rw, LINE_EVERY), rw, line_color=REJ_W_C, line_width=1.4, line_dash="5 2")
    add_legend(p, [("Chosen (base w/o RC)", a), ("Rejected (base w/o RC)", b),
                   ("Chosen (base w/ RC)", c), ("Rejected (base w/ RC)", d)])
    return p


def margin_panel(yr, wo, w):
    p = base_fig(3, Range1d(*yr), "Margin Over Steps")
    p.yaxis.ticker = FixedTicker(ticks=MARGIN_TICKS)
    p.yaxis.formatter = CustomJSTickFormatter(code="return tick.toFixed(1).replace('-', '\\u2212');")
    p.yaxis.axis_label = "Margin"
    a = p.line(steps(wo, LINE_EVERY), wo, line_color=BLUE, line_width=2)
    b = p.line(steps(w, LINE_EVERY), w, line_color=RED, line_width=2, line_dash="5 2")
    add_legend(p, [("Base w/o RC", a), ("Base w/ RC", b)])
    return p


def caption(tag, name, height, pad):
    html = (f'<div style="width:987px;padding-top:{pad}px;text-align:center;font-family:\'Liberation Serif\',serif;'
            'font-size:18px;line-height:20px;color:#000;white-space:nowrap;">'
            f'<i>({tag})</i> {name} dynamics on Pythia-410M.</div>')
    return Div(text=html, width=987, height=height, margin=(0, 0, 0, 0))


SUB = '<sub style="font-size:0.7em;vertical-align:-0.28em;line-height:0;">{}</sub>'
R_T = '<i>r</i>' + SUB.format('<i>t</i>')
R_T_STAR = ('<i>r</i>' + SUB.format('<i>t</i>') +
            '<span style="font-size:11px;vertical-align:7px;line-height:0;">\u22c6</span>')
Z_W = '<i>z</i>' + SUB.format('<i>w,t</i>')
Z_L = '<i>z</i>' + SUB.format('<i>l,t</i>')

PARA_LINES = [
    f'Upon applying RC (\u201cBase w/ RC\u201d), ratio centering often promotes the Pathway (iii)-like regime. After applying RC, log\u2009{R_T} is',
    f'typically anchored closer to log\u2009{R_T_STAR} and remains inside DB for a larger fraction of training across objectives. Correspondingly,',
    f'the likelihood trajectories more frequently exhibit the Pathway (iii) signature: {Z_W} is not down (often mildly increasing)',
    f'while {Z_L} is suppressed. Notably, RC is not limited to entangled margin baselines: for density ratio objectives (e.g., DIL-UKL',
    'and DDRO), RC can also reduce boundary-hugging and make the desired regime more persistent (Sec. '
    '<span style="color:#1f2a9c;">C.5</span>).&nbsp; Overall,',
    'Pythia-410M provides a clean controlled setting where the association between DB feasibility and the induced pathway is',
    'visually clearest.',
]

header_html = (
    '<div style="position:relative;width:987px;height:30px;font-family:\'Liberation Serif\',serif;color:#000;">'
    '<div style="position:absolute;left:0;top:3px;width:987px;text-align:center;font-weight:bold;font-size:17.9px;'
    'line-height:20px;white-space:nowrap;">Towards Disentangled Preference Optimization Dynamics: Suppress the Loser, '
    'Preserve the Winner</div>'
    '<div style="position:absolute;left:7px;top:24px;width:973px;height:2px;background:#000;"></div></div>'
)

para_rows = []
for i, line in enumerate(PARA_LINES):
    last = "left" if i == len(PARA_LINES) - 1 else "justify"
    para_rows.append(f'<div style="height:23.67px;line-height:23.67px;white-space:nowrap;text-align:justify;'
                     f'text-align-last:{last};">{line}</div>')
para_html = ('<div style="width:972px;padding:18px 8px 0 7px;font-family:\'Liberation Serif\',serif;font-size:19.5px;'
             'color:#000;">' + ''.join(para_rows) + '</div>')

header = Div(text=header_html, width=987, height=30, margin=(0, 0, 0, 0))
para = Div(text=para_html, width=987, height=205, margin=(0, 0, 0, 0))

ROWS = [
    dict(tag="a", name="DDRO",
         wo=(DDRO_WO_LO, DDRO_WO_HI, DDRO_WO_CENTER, DDRO_WO_LOGR), wo_range=(0.30, 3.11),
         w=(DDRO_W_LO, DDRO_W_HI, DDRO_W_CENTER, DDRO_W_LOGR), w_range=(0.31, 3.21),
         lik=(DDRO_CHOSEN_WO, DDRO_REJ_WO, DDRO_CHOSEN_W, DDRO_REJ_W), lik_range=(-2.771, -2.214),
         lik_ticks=[-2.3, -2.4, -2.5, -2.6, -2.7],
         margin=(DDRO_MARGIN_WO, DDRO_MARGIN_W), margin_range=(-0.043, 0.458)),
    dict(tag="b", name="DIL-BCE",
         wo=(BCE_WO_LO, BCE_WO_HI, BCE_WO_CENTER, BCE_WO_LOGR), wo_range=(0.30, 3.11),
         w=(BCE_W_LO, BCE_W_HI, BCE_W_CENTER, BCE_W_LOGR), w_range=(0.837, 2.22),
         lik=(BCE_CHOSEN_WO, BCE_REJ_WO, BCE_CHOSEN_W, BCE_REJ_W), lik_range=(-2.907, -2.219),
         lik_ticks=[-2.3, -2.4, -2.5, -2.6, -2.7, -2.8, -2.9],
         margin=(BCE_MARGIN_WO, BCE_MARGIN_W), margin_range=(-0.025, 0.463)),
    dict(tag="c", name="DIL-LSIF",
         wo=(LSIF_WO_LO, LSIF_WO_HI, LSIF_WO_CENTER, LSIF_WO_LOGR), wo_range=(0.30, 3.11),
         w=(LSIF_W_LO, LSIF_W_HI, LSIF_W_CENTER, LSIF_W_LOGR), w_range=(0.31, 3.21),
         lik=(LSIF_CHOSEN_WO, LSIF_REJ_WO, LSIF_CHOSEN_W, LSIF_REJ_W), lik_range=(-2.76, -2.225),
         lik_ticks=[-2.3, -2.4, -2.5, -2.6, -2.7],
         margin=(LSIF_MARGIN_WO, LSIF_MARGIN_W), margin_range=(-0.04, 0.46)),
    dict(tag="d", name="DIL-UKL",
         wo=(UKL_WO_LO, UKL_WO_HI, UKL_WO_CENTER, UKL_WO_LOGR), wo_range=(0.30, 3.11),
         w=(UKL_W_LO, UKL_W_HI, UKL_W_CENTER, UKL_W_LOGR), w_range=(0.837, 2.22),
         lik=(UKL_CHOSEN_WO, UKL_REJ_WO, UKL_CHOSEN_W, UKL_REJ_W), lik_range=(-2.876, -2.216),
         lik_ticks=[-2.3, -2.4, -2.5, -2.6, -2.7, -2.8],
         margin=(UKL_MARGIN_WO, UKL_MARGIN_W), margin_range=(-0.025, 0.463)),
]

blocks = [header, para]
for i, spec in enumerate(ROWS):
    p1 = ratio_panel(0, spec["wo_range"], *spec["wo"], BLUE, "log r\u209c w/o RC", "DB w/o Reward Calibration")
    p2 = ratio_panel(1, spec["w_range"], *spec["w"], RED, "log r\u209c w/ RC", "DB w/ Reward Calibration")
    p3 = likelihood_panel(spec["lik_range"], spec["lik_ticks"], *spec["lik"])
    p4 = margin_panel(spec["margin_range"], *spec["margin"])
    blocks.append(row(p1, p2, p3, p4, spacing=0, margin=(0, 0, 0, 0)))
    # the first caption sits two pixels lower to keep later rows in place
    blocks.append(caption(spec["tag"], spec["name"], 28 if i == 0 else 26, 9 if i == 0 else 7))

page = column(*blocks, spacing=0, margin=(0, 0, 0, 0))

with open("out.html", "w") as f:
    f.write(file_html(page, INLINE, title="Preference optimization dynamics"))
